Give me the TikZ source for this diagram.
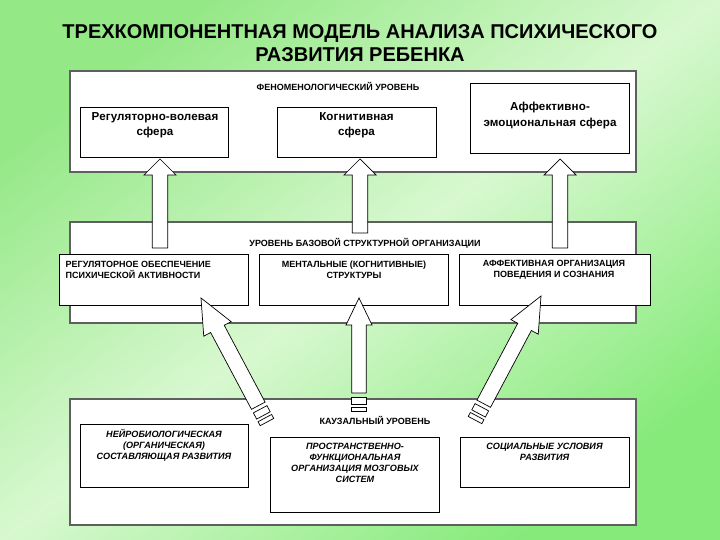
\documentclass[tikz,border=0pt]{standalone}
\usepackage{fontspec}
\setmainfont{Liberation Sans}
\newfontfamily\spf[LetterSpace=1]{Liberation Sans}
\definecolor{bggreen}{RGB}{148,232,134}
\definecolor{bggreen2}{RGB}{134,234,122}
\definecolor{bglight}{RGB}{216,248,208}
\definecolor{outerc}{RGB}{95,95,95}
\newcommand{\bArrow}[6]{%
  % #1 tip, #2 angle, #3 shaft end, #4 head length, #5 head half width, #6 shaft half width
  \begin{scope}[shift={(#1)}, rotate=#2]
    \draw[blk] (0,0) -- (#5,#4) -- (#6,#4) -- (#6,#3) -- (-#6,#3) -- (-#6,#4) -- (-#5,#4) -- cycle;
  \end{scope}}
\newcommand{\bStripes}[4]{%
  % #1 tip, #2 angle, #3 shaft end, #4 half width
  \begin{scope}[shift={(#1)}, rotate=#2]
    \draw[blk] (-#4,#3+4) rectangle (#4,#3+11);
    \draw[blk] (-#4,#3+14) rectangle (#4,#3+18.5);
  \end{scope}}
\begin{document}
\begin{tikzpicture}[x=1pt,y=-1pt,
  outer/.style={draw=outerc, line width=1.4pt, fill=white, inner sep=0pt},
  inner/.style={draw=black, line width=0.8pt, fill=white, inner sep=0pt},
  blk/.style={draw=black, line width=0.7pt, fill=white, line join=miter},
  lvl/.style={font=\bfseries\fontsize{9}{11}\selectfont, inner sep=0pt},
  midt/.style={font=\bfseries\fontsize{9}{11.5}\selectfont, inner sep=0pt, align=center},
  bott/.style={font=\bfseries\itshape\fontsize{9.1}{11}\selectfont, inner sep=0pt, align=center},
  topt/.style={font=\spf\bfseries\fontsize{11.6}{15}\selectfont, inner sep=0pt, align=center},
]
\useasboundingbox (0,0) rectangle (720,540);
\shade[left color=bggreen, right color=bggreen2, middle color=bglight, shading angle=37] (0,0) rectangle (720,540);

% title
\node[font=\bfseries\fontsize{20}{23}\selectfont, align=center, inner sep=0pt] (title) at (360,43.5)
  {ТРЕХКОМПОНЕНТНАЯ МОДЕЛЬ АНАЛИЗА ПСИХИЧЕСКОГО\\РАЗВИТИЯ РЕБЕНКА};

% outer level boxes
\node[outer, minimum width=566, minimum height=101] (L1) at (353,121.5) {};
\node[outer, minimum width=566, minimum height=101] (L2) at (353,272.5) {};
\node[outer, minimum width=566, minimum height=126] (L3) at (353,462) {};

% level 1
\node[lvl] (L1t) at (338,86) {ФЕНОМЕНОЛОГИЧЕСКИЙ УРОВЕНЬ};
\node[inner, minimum width=148, minimum height=50] (T1) at (154,132) {};
\node[inner, minimum width=159, minimum height=50] (T2) at (356.5,132) {};
\node[inner, minimum width=158.5, minimum height=70] (T3) at (550,118) {};
\node[topt] (T1t) at (155,125.5) {Регуляторно-волевая\\сфера};
\node[topt] (T2t) at (356.5,125.5) {Когнитивная\\сфера};
\node[topt, font=\spf\bfseries\fontsize{11.6}{16}\selectfont] (T3t) at (550,116) {Аффективно-\\эмоциональная сфера};

% level 2
\node[lvl] (L2t) at (365,243) {УРОВЕНЬ БАЗОВОЙ СТРУКТУРНОЙ ОРГАНИЗАЦИИ};
\node[inner, minimum width=189.5, minimum height=51] (M1) at (153.75,279.5) {};
\node[inner, minimum width=188.4, minimum height=51] (M2) at (353.8,279.5) {};
\node[inner, minimum width=190.5, minimum height=51] (M3) at (554.75,279.5) {};
\node[midt, align=left, anchor=west] (M1t) at (65.5,269.8) {РЕГУЛЯТОРНОЕ ОБЕСПЕЧЕНИЕ\\ПСИХИЧЕСКОЙ АКТИВНОСТИ};
\node[midt] (M2t) at (354,269.8) {МЕНТАЛЬНЫЕ (КОГНИТИВНЫЕ)\\СТРУКТУРЫ};
\node[midt] (M3t) at (554,269.8) {АФФЕКТИВНАЯ ОРГАНИЗАЦИЯ\\ПОВЕДЕНИЯ И СОЗНАНИЯ};

% level 3
\node[lvl] (L3t) at (375,420.5) {КАУЗАЛЬНЫЙ УРОВЕНЬ};
\node[inner, minimum width=168, minimum height=63.5] (B1) at (164,455.75) {};
\node[inner, minimum width=169, minimum height=75] (B2) at (354.5,474.5) {};
\node[inner, minimum width=169, minimum height=50.5] (B3) at (544.5,462.25) {};
\node[bott] (B1t) at (164,445) {НЕЙРОБИОЛОГИЧЕСКАЯ\\(ОРГАНИЧЕСКАЯ)\\СОСТАВЛЯЮЩАЯ РАЗВИТИЯ};
\node[bott] (B2t) at (355,462.5) {ПРОСТРАНСТВЕННО-\\ФУНКЦИОНАЛЬНАЯ\\ОРГАНИЗАЦИЯ МОЗГОВЫХ\\СИСТЕМ};
\node[bott] (B3t) at (544.5,451.5) {СОЦИАЛЬНЫЕ УСЛОВИЯ\\РАЗВИТИЯ};

% arrow tips
\coordinate (u1) at (160,159);
\coordinate (u2) at (360,159);
\coordinate (u3) at (560,159);
\coordinate (d1) at (201,298);
\coordinate (d2) at (359,298);
\coordinate (d3) at (541,296);

% upward arrows (level 2 -> level 1)
\bArrow{u1}{0}{89}{16}{16}{7.7}
\bArrow{u2}{0}{74}{16}{16}{7.7}
\bArrow{u3}{0}{89}{16}{16}{7.7}

% arrows from level 3 -> level 2
\bArrow{d1}{28}{122}{35}{15.5}{7.7}
\bStripes{d1}{28}{122}{7.7}
\bArrow{d2}{0}{95}{27}{13}{7.2}
\bStripes{d2}{0}{95}{7.2}
\bArrow{d3}{-28}{122}{35}{15.5}{7.7}
\bStripes{d3}{-28}{122}{7.7}
\end{tikzpicture}
\end{document}
